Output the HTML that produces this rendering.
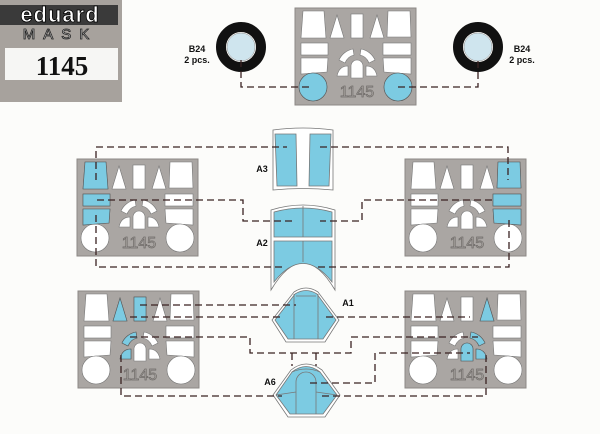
<!DOCTYPE html>
<html><head><meta charset="utf-8"><style>
html,body{margin:0;padding:0;background:#fcfcfa;}
svg{display:block;}
</style></head><body>
<svg width="600" height="434" viewBox="0 0 600 434" xmlns="http://www.w3.org/2000/svg" font-family="Liberation Sans, sans-serif">
<defs>
<g id="sheet">
<rect x="0" y="0" width="121" height="97" fill="#aaa6a3" stroke="#8c8885" stroke-width="1"/>
<g fill="#fff" stroke="#777" stroke-width="0.6">
<path d="M8,3 L29,3 L31,30 L6,30 Z"/>
<path d="M42,7 L49,30 L35,30 Z"/>
<rect x="56" y="6" width="12" height="24"/>
<path d="M82,7 L89,30 L75,30 Z"/>
<path d="M93,3 L115,3 L116,29 L92,29 Z"/>
<rect x="6" y="35" width="27" height="12"/>
<path d="M6,50 L33,50 L32,64 L6,66 Z"/>
<rect x="88" y="35" width="28" height="12"/>
<path d="M88,50 L116,50 L116,66 L89,64 Z"/>
<path d="M44,52 A19,19 0 0 1 58,41 L59,47 A13,13 0 0 0 50,55 Z"/>
<path d="M80,52 A19,19 0 0 0 66,41 L65,47 A13,13 0 0 1 74,55 Z"/>
<path d="M56,70 L56,58 A6,6 0 0 1 68,58 L68,70 Z"/>
<path d="M42,68 Q44,58 53,58 L53,68 Z"/>
<path d="M82,68 Q80,58 71,58 L71,68 Z"/>
<circle cx="18" cy="79" r="14"/>
<circle cx="103" cy="79" r="14"/>
</g>
<text x="62" y="89" font-size="16" text-anchor="middle" fill="none" stroke="#6f6b68" stroke-width="0.7">1145</text>
</g>
</defs>

<!-- logo -->
<rect x="0" y="0" width="122" height="102" fill="#a7a29d"/>
<rect x="0" y="5" width="118" height="20" fill="#3a3a3a"/>
<text x="60" y="22" font-size="22" font-weight="bold" text-anchor="middle" fill="#fff" stroke="#000" stroke-width="0.8" letter-spacing="1">eduard</text>
<text x="60" y="39" font-size="15" text-anchor="middle" fill="#ddd" stroke="#222" stroke-width="0.8" letter-spacing="8">MASK</text>
<rect x="5" y="48" width="113" height="32" fill="#f6f6f4"/>
<text x="62" y="75" font-size="27" font-weight="bold" text-anchor="middle" fill="#111" font-family="Liberation Serif, serif">1145</text>

<!-- sheets -->
<use href="#sheet" x="295" y="8"/>
<use href="#sheet" x="77" y="159"/>
<use href="#sheet" x="405" y="159"/>
<use href="#sheet" x="78" y="291"/>
<use href="#sheet" x="405" y="291"/>

<g fill="#7ccbe2" stroke="#555" stroke-width="0.6">
<circle cx="313" cy="87" r="14"/><circle cx="398" cy="87" r="14"/>
<path d="M85,162 L106,162 L108,189 L83,189 Z"/><rect x="83" y="194" width="27" height="12"/><path d="M83,209 L110,209 L109,223 L83,225 Z"/>
<path d="M498,162 L520,162 L521,188 L497,188 Z"/><rect x="493" y="194" width="28" height="12"/><path d="M493,209 L521,209 L521,225 L494,223 Z"/>
<path d="M120,298 L127,321 L113,321 Z"/><rect x="134" y="297" width="12" height="24"/><path d="M122,343 A19,19 0 0 1 136,332 L137,338 A13,13 0 0 0 128,346 Z"/><path d="M120,359 Q122,349 131,349 L131,359 Z"/>
<path d="M487,298 L494,321 L480,321 Z"/><path d="M485,343 A19,19 0 0 0 471,332 L470,338 A13,13 0 0 1 479,346 Z"/><path d="M461,361 L461,349 A6,6 0 0 1 473,349 L473,361 Z"/><path d="M487,359 Q485,349 476,349 L476,359 Z"/>
</g>

<!-- wheels -->
<circle cx="241" cy="47" r="20" fill="none" stroke="#111" stroke-width="10"/>
<circle cx="241" cy="47" r="14" fill="#cfe5ee" stroke="#888" stroke-width="0.5"/>
<circle cx="478" cy="47" r="20" fill="none" stroke="#111" stroke-width="10"/>
<circle cx="478" cy="47" r="14" fill="#cfe5ee" stroke="#888" stroke-width="0.5"/>
<g font-size="9" font-weight="bold" fill="#111" text-anchor="middle">
<text x="197" y="52">B24</text><text x="197" y="63">2 pcs.</text>
<text x="522" y="52">B24</text><text x="522" y="63">2 pcs.</text>
<text x="262" y="172">A3</text><text x="262" y="246">A2</text>
<text x="348" y="306">A1</text><text x="270" y="385">A6</text>
</g>

<!-- masks -->
<g stroke="#777" stroke-width="0.8">
<path d="M273,130 Q303,126 333,130 L333,190 Q303,187 273,190 Z" fill="#fff"/>
<path d="M275,134 L296,134 L297,186 L277,186 Z" fill="#7ccbe2"/>
<path d="M310,134 L331,134 L329,186 L309,186 Z" fill="#7ccbe2"/>
<path d="M271,210 Q303,200 335,210 L335,290 Q303,236 271,290 Z" fill="#fff"/>
<path d="M274,212 Q303,204 332,212 L332,237 L274,237 Z" fill="#7ccbe2"/>
<path d="M274,241 L332,241 L332,282 Q303,245 274,282 Z" fill="#7ccbe2"/>
<path d="M303,206 L303,237 M303,241 L303,262" fill="none"/>
<path d="M272,320 L294,292 Q306,284 318,292 L339,320 L325,342 L286,342 Z" fill="#fff"/>
<path d="M275,320 L295,294 Q306,287 317,294 L336,320 L323,339 L288,339 Z" fill="#7ccbe2"/>
<path d="M294,294 L294,339 M318,294 L318,339 M296,296 L316,296" fill="none"/>
<path d="M273,395 L291,370 Q306,358 322,370 L340,395 L325,417 L288,417 Z" fill="#fff"/>
<path d="M276,395 L292,372 Q306,361 320,372 L337,395 L323,414 L290,414 Z" fill="#7ccbe2"/>
<path d="M296,414 L296,382 A10,10 0 0 1 316,382 L316,414 M292,372 Q306,366 320,372 M276,395 L296,392 M337,395 L316,392" fill="none"/>
</g>

<!-- connectors -->
<g fill="none" stroke="#3a2222" stroke-width="1.3" stroke-dasharray="7,4">
<path d="M241,60 L241,87 L313,87"/>
<path d="M398,87 L478,87 L478,60"/>
<path d="M96,180 L96,147 L287,147"/>
<path d="M320,147 L508,147 L508,180"/>
<path d="M97,200 L243,200 L243,221 L292,221"/>
<path d="M492,200 L362,200 L362,221 L320,221"/>
<path d="M96,215 L96,267 L285,267"/>
<path d="M318,267 L509,267 L509,220"/>
<path d="M140,305 L296,305"/>
<path d="M130,317 L280,317"/>
<path d="M326,317 L470,317"/>
<path d="M130,337 L250,337 L250,353 L351,353 L351,337 L478,337"/>
<path d="M292,353 L292,366 M316,353 L316,366"/>
<path d="M310,383 L375,383 L375,353 L470,353"/>
<path d="M121,355 L121,396 L282,396"/>
<path d="M322,396 L486,396 L486,355"/>
</g>
</svg>
</body></html>
